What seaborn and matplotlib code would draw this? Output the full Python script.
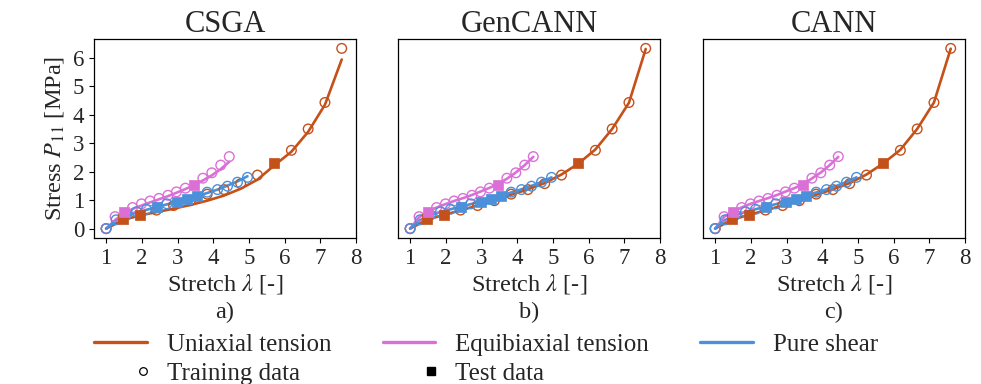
import numpy as np
import matplotlib
matplotlib.use("Agg")
import matplotlib.pyplot as plt
from matplotlib.lines import Line2D
from matplotlib.legend_handler import HandlerLine2D
import seaborn as sns

# ---------------- data ----------------
titles = ["CSGA", "GenCANN", "CANN"]
panel_tags = ["a)", "b)", "c)"]
xticks = [1, 2, 3, 4, 5, 6, 7, 8]
yticks = [0, 1, 2, 3, 4, 5, 6]

# Uniaxial tension
uni_stretch = [1.00, 1.47, 1.94, 2.41, 2.89, 3.36, 3.83, 4.30, 4.77, 5.24, 5.71, 6.19, 6.66, 7.13, 7.60]
uni_stress = [0.00, 0.32, 0.49, 0.65, 0.81, 0.98, 1.21, 1.37, 1.58, 1.88, 2.29, 2.75, 3.50, 4.43, 6.33]
uni_test = [0, 1, 1, 0, 0, 0, 0, 0, 0, 0, 1, 0, 0, 0, 0]

# Equibiaxial tension
equi_stretch = [1.00, 1.25, 1.50, 1.74, 1.99, 2.23, 2.48, 2.73, 2.97, 3.22, 3.47, 3.71, 3.96, 4.21, 4.45]
equi_stress = [0.00, 0.42, 0.60, 0.74, 0.87, 0.97, 1.06, 1.17, 1.29, 1.42, 1.53, 1.77, 1.96, 2.23, 2.53]
equi_test = [0, 0, 1, 0, 0, 0, 0, 0, 0, 0, 1, 0, 0, 0, 0]

# Pure shear
shear_stretch = [1.00, 1.28, 1.57, 1.85, 2.13, 2.42, 2.70, 2.98, 3.27, 3.55, 3.83, 4.12, 4.40, 4.68, 4.96]
shear_stress = [0.00, 0.31, 0.48, 0.59, 0.68, 0.77, 0.87, 0.95, 1.04, 1.15, 1.28, 1.37, 1.49, 1.63, 1.80]
shear_test = [0, 0, 0, 0, 0, 1, 0, 1, 1, 1, 0, 0, 0, 0, 0]

# Model predictions at the measured stretches
csga_uni = [0.00, 0.30, 0.46, 0.58, 0.70, 0.83, 0.98, 1.16, 1.40, 1.72, 2.22, 2.70, 3.40, 4.35, 5.94]
csga_equi = [0.00, 0.30, 0.55, 0.69, 0.81, 0.92, 1.03, 1.14, 1.26, 1.39, 1.53, 1.69, 1.87, 2.09, 2.35]
csga_shear = [0.00, 0.27, 0.44, 0.56, 0.66, 0.76, 0.85, 0.94, 1.04, 1.14, 1.25, 1.37, 1.51, 1.66, 1.84]

gencann_uni = [0.00, 0.31, 0.48, 0.64, 0.81, 0.99, 1.19, 1.38, 1.60, 1.90, 2.28, 2.78, 3.50, 4.42, 6.31]
gencann_equi = [0.00, 0.40, 0.60, 0.74, 0.86, 0.97, 1.07, 1.18, 1.30, 1.43, 1.57, 1.75, 1.97, 2.23, 2.52]
gencann_shear = [0.00, 0.30, 0.47, 0.59, 0.68, 0.77, 0.86, 0.95, 1.05, 1.15, 1.27, 1.38, 1.50, 1.64, 1.80]

cann_uni = [0.00, 0.31, 0.48, 0.64, 0.81, 0.99, 1.19, 1.38, 1.60, 1.90, 2.29, 2.77, 3.50, 4.43, 6.32]
cann_equi = [0.00, 0.41, 0.60, 0.74, 0.87, 0.97, 1.07, 1.18, 1.30, 1.42, 1.56, 1.76, 1.97, 2.23, 2.52]
cann_shear = [0.00, 0.30, 0.47, 0.59, 0.68, 0.77, 0.86, 0.95, 1.05, 1.15, 1.27, 1.38, 1.50, 1.64, 1.80]

series_names = ["Uniaxial tension", "Equibiaxial tension", "Pure shear"]
colors = ["#C4501A", "#DA70D6", "#4A90DA"]

# ---------------- style ----------------
sns.set_theme(style="ticks")
plt.rcParams["font.family"] = ["Liberation Serif", "DejaVu Serif"]
plt.rcParams["mathtext.fontset"] = "stix"
plt.rcParams["axes.linewidth"] = 0.9
plt.rcParams["axes.edgecolor"] = "black"

fig = plt.figure(figsize=(9.81, 3.84), dpi=100)
W, H = 981.0, 384.0
lefts = [94, 398, 703]
ax_w, ax_top, ax_bot = 262, 39, 238

measured = [
    (uni_stretch, uni_stress, uni_test),
    (equi_stretch, equi_stress, equi_test),
    (shear_stretch, shear_stress, shear_test),
]
models = [
    (csga_uni, csga_equi, csga_shear),
    (gencann_uni, gencann_equi, gencann_shear),
    (cann_uni, cann_equi, cann_shear),
]

for k, (left, title, tag, model) in enumerate(zip(lefts, titles, panel_tags, models)):
    ax = fig.add_axes([left / W, 1 - ax_bot / H, ax_w / W, (ax_bot - ax_top) / H])
    for (lam, p, test), pred, c in zip(measured, model, colors):
        lam = np.asarray(lam)
        p = np.asarray(p)
        test = np.asarray(test, dtype=bool)
        sns.lineplot(x=lam, y=pred, ax=ax, color=c, lw=1.9, zorder=2,
                     legend=False, sort=False)
        sns.scatterplot(x=lam[~test], y=p[~test], ax=ax, marker="o", s=48,
                        facecolor="none", edgecolor=c, linewidth=1.0,
                        zorder=3, legend=False)
        sns.scatterplot(x=lam[test], y=p[test], ax=ax, marker="s", s=58,
                        color=c, edgecolor=c, linewidth=0.5,
                        zorder=4, legend=False)

    ax.set_xlim(0.66, 8.0)
    ax.set_ylim(-0.33, 6.66)
    ax.set_xticks(xticks)
    ax.set_yticks(yticks)
    ax.tick_params(axis="both", labelsize=16.5, length=3.5, width=0.8,
                   direction="out", pad=3.5, color="black")
    if k == 0:
        ax.set_ylabel(r"Stress $P_{11}$ [MPa]", fontsize=17.5, labelpad=5)
    else:
        ax.tick_params(axis="y", left=False, labelleft=False)
        ax.set_ylabel("")
    ax.set_xlabel(r"Stretch $\lambda$ [-]", fontsize=17.5, labelpad=2)
    ax.set_title(title, fontsize=22, pad=5)
    ax.text(0.5, -0.372, tag, transform=ax.transAxes, ha="center",
            va="center", fontsize=17.5)
    for s in ax.spines.values():
        s.set_visible(True)
        s.set_color("black")
        s.set_linewidth(0.9)


class EndMarkerHandler(HandlerLine2D):
    """Place the single legend marker near the right end of the handle."""

    def get_xdata(self, legend, xdescent, ydescent, width, height, fontsize):
        x = -xdescent + 0.93 * width
        return np.array([x - 1.0, x + 1.0]), np.array([x])


line_handles = [Line2D([], [], color=c, lw=2.4) for c in colors]
train_handle = Line2D([], [], ls="none", marker="o", ms=5.5, mfc="none",
                      mec="black", mew=0.9)
test_handle = Line2D([], [], ls="none", marker="s", ms=5.5, color="black")

handles = [line_handles[0], train_handle, line_handles[1], test_handle, line_handles[2]]
labels = [series_names[0], "Training data", series_names[1], "Test data", series_names[2]]

fig.legend(handles, labels, ncol=3, loc="center",
           bbox_to_anchor=(486 / W, 1 - 359 / H), frameon=False,
           fontsize=18, handlelength=2.1, handletextpad=0.8,
           columnspacing=2.05, labelspacing=0.27, borderpad=0.0,
           handler_map={train_handle: EndMarkerHandler(numpoints=1),
                        test_handle: EndMarkerHandler(numpoints=1)})

fig.savefig("out.png", dpi=100)
